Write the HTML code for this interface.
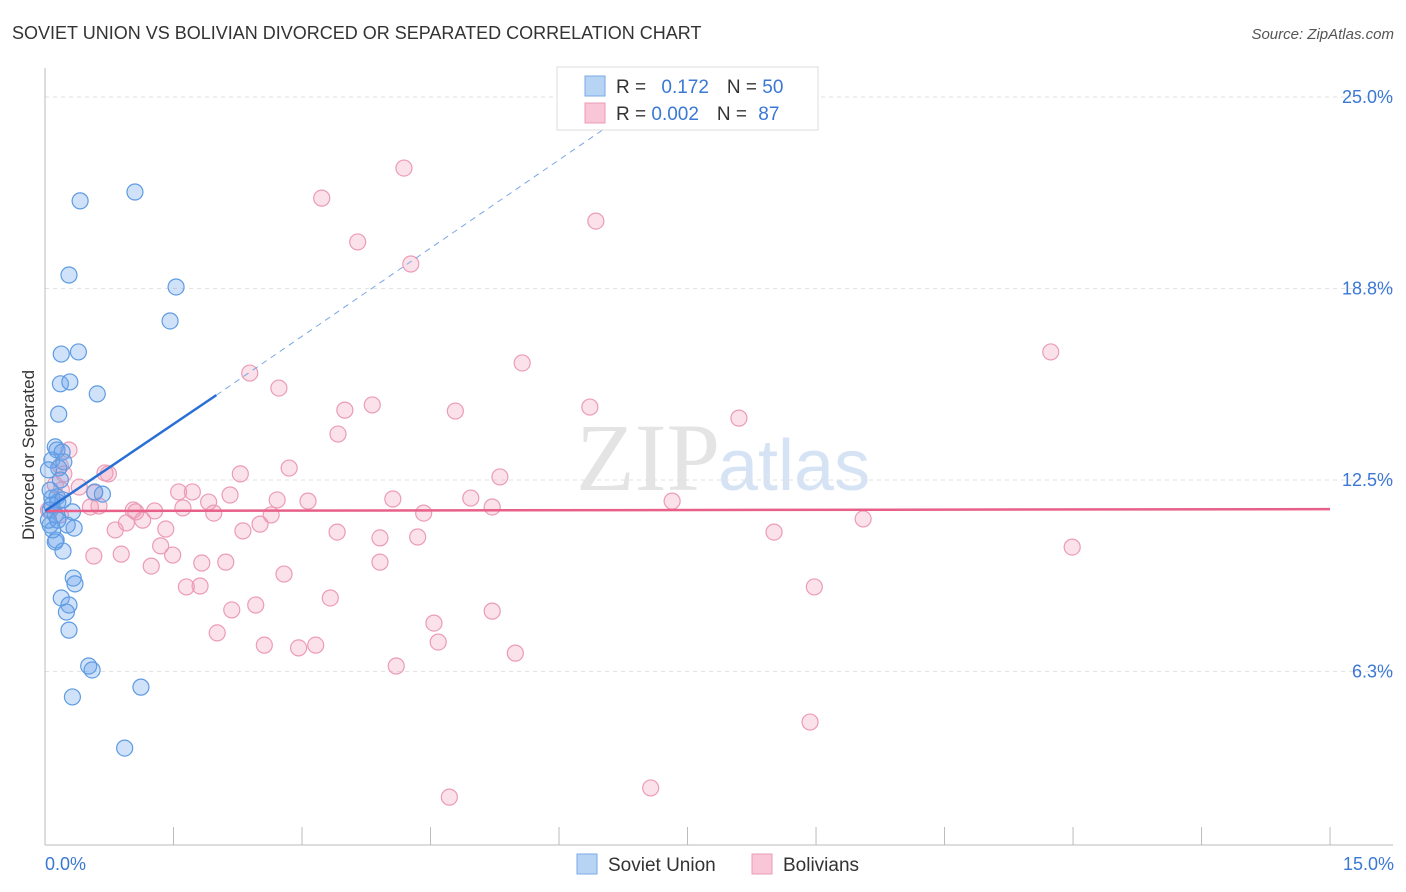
<!DOCTYPE html>
<html><head><meta charset="utf-8">
<style>
body{margin:0;background:#fff;font-family:"Liberation Sans",sans-serif;}
svg{display:block}
</style></head>
<body>
<svg id="chart" width="1406" height="892" xmlns="http://www.w3.org/2000/svg">
<text x="12" y="39" font-size="18" fill="#333">SOVIET UNION VS BOLIVIAN DIVORCED OR SEPARATED CORRELATION CHART</text>
<text x="1394" y="39" font-size="15" fill="#555" font-style="italic" text-anchor="end">Source: ZipAtlas.com</text>
<text x="720" y="490" font-size="96" fill="#e4e4e4" text-anchor="end" font-family="Liberation Serif">ZIP</text>
<text x="718" y="490" font-size="72" fill="#d5e3f5">atlas</text>
<g id="grid"></g>
<g id="axes"></g>
<g id="marks"></g>
<text transform="translate(34,455) rotate(-90)" font-size="17" fill="#333" text-anchor="middle">Divorced or Separated</text>
<text x="45" y="870" font-size="18" fill="#3a78d4">0.0%</text>
<text x="1394" y="870" font-size="18" fill="#3a78d4" text-anchor="end">15.0%</text>
<g>
<rect x="557" y="67" width="261" height="63" fill="#fff" stroke="#ddd"/>
<rect x="585" y="76" width="20" height="20" fill="#b8d4f5" stroke="#7aaae6"/>
<rect x="585" y="103" width="20" height="20" fill="#f8c6d6" stroke="#ec9bb6"/>
<text x="616" y="93" font-size="19" fill="#333">R = <tspan fill="#3a78d4" dx="10">0.172</tspan><tspan dx="18" fill="#333">N = </tspan><tspan fill="#3a78d4">50</tspan></text>
<text x="616" y="120" font-size="19" fill="#333">R = <tspan fill="#3a78d4">0.002</tspan><tspan dx="18" fill="#333">N = </tspan><tspan fill="#3a78d4" dx="6">87</tspan></text>
</g>
<g>
<rect x="577" y="854" width="20" height="20" fill="#b8d4f5" stroke="#7aaae6"/>
<text x="608" y="871" font-size="19" fill="#333">Soviet Union</text>
<rect x="752" y="854" width="20" height="20" fill="#f8c6d6" stroke="#ec9bb6"/>
<text x="783" y="871" font-size="19" fill="#333">Bolivians</text>
</g>
</svg>
<script>
const yTicks=[25.0,18.75,12.5,6.25];
const yTickLabels=["25.0%","18.8%","12.5%","6.3%"];
const xTicks=[0,1.5,3,4.5,6,7.5,9,10.5,12,13.5,15];
const sovietX=[0.41,1.05,0.28,1.53,1.46,0.19,0.39,0.18,0.29,0.61,0.16,0.12,0.14,0.20,0.08,0.16,0.22,0.08,0.14,0.15,0.67,0.58,0.06,0.12,0.32,0.06,0.26,0.34,0.13,0.12,0.21,0.33,0.35,0.19,0.28,0.25,0.28,0.51,0.55,1.12,0.32,0.93,0.04,0.06,0.18,0.09,0.04,0.15,0.21,0.08];
const sovietY=[21.61,21.90,19.19,18.80,17.69,16.61,16.68,15.64,15.70,15.31,14.65,13.58,13.48,13.41,13.15,12.89,13.09,11.91,11.95,11.78,12.04,12.11,11.52,11.36,11.46,11.03,11.03,10.93,10.54,10.48,10.18,9.30,9.11,8.65,8.42,8.19,7.60,6.43,6.30,5.74,5.42,3.75,12.83,12.17,12.50,10.87,11.19,11.19,11.85,11.68];
const bolX=[4.19,3.23,6.43,3.65,4.27,11.74,5.57,2.39,2.73,3.50,3.82,4.79,6.36,8.10,3.42,0.28,0.18,0.70,0.74,0.22,0.12,0.19,0.40,0.58,2.28,2.85,5.31,1.56,1.72,2.16,1.91,2.71,3.07,4.06,4.97,7.32,0.53,0.63,1.06,1.28,1.03,1.61,1.97,2.64,4.42,5.22,9.55,0.82,0.95,1.14,1.41,2.31,2.51,3.41,3.91,4.35,1.35,1.49,0.57,0.89,1.24,1.83,2.11,2.79,3.91,11.99,1.65,1.81,2.18,2.46,3.33,4.54,5.22,8.98,2.01,2.56,2.96,3.16,4.59,5.49,4.10,8.51,8.93,4.72,7.07,0.04,0.18];
const bolY=[22.68,21.70,20.95,20.27,19.55,16.68,16.32,15.99,15.50,14.78,14.95,14.75,14.88,14.52,14.00,13.48,12.96,12.73,12.70,12.70,12.34,12.17,12.27,12.08,12.70,12.89,12.60,12.11,12.11,12.01,11.78,11.85,11.81,11.88,11.91,11.81,11.62,11.65,11.46,11.49,11.52,11.59,11.42,11.36,11.42,11.62,11.23,10.87,11.10,11.19,10.90,10.84,11.06,10.80,10.61,10.64,10.35,10.05,10.02,10.08,9.69,9.79,9.82,9.43,9.82,10.31,9.01,9.04,8.26,8.42,8.65,7.83,8.22,9.01,7.51,7.11,7.02,7.11,7.21,6.85,6.43,10.80,4.60,2.15,2.45,11.52,11.36];
const sovietTrend=[0,11.49,2.0,15.27,6.6,24.1];
const bolTrend=[0,11.49,15,11.55];

const NS="http://www.w3.org/2000/svg";
const xs=v=>45+v*85.67;
const ys=v=>97+(25-v)*30.64;
function mk(tag,attrs,parent){const e=document.createElementNS(NS,tag);for(const k in attrs)e.setAttribute(k,attrs[k]);parent.appendChild(e);return e;}
const grid=document.getElementById('grid'),axes=document.getElementById('axes'),marks=document.getElementById('marks');
yTicks.forEach((t,i)=>{
  const l=mk('line',{x1:45,x2:1393,y1:ys(t),y2:ys(t),stroke:'#e2e2e2','stroke-dasharray':'4,4'},grid);
  
  
  const tx=mk('text',{x:1393,y:ys(t)+6,'font-size':18,fill:'#3a78d4','text-anchor':'end'},grid);
  tx.textContent=yTickLabels[i];
  
  
});
const ya=mk('line',{x1:45,x2:45,y1:68,y2:845,stroke:'#bbb'},axes);


const xa=mk('line',{x1:45,x2:1393,y1:845,y2:845,stroke:'#bbb'},axes);


xTicks.forEach(t=>{
  const l=mk('line',{x1:xs(t),x2:xs(t),y1:827,y2:845,stroke:'#bbb'},axes);
  
  
});
bolX.forEach((x,i)=>{
  const c=mk('circle',{cx:xs(x),cy:ys(bolY[i]),r:8,fill:'rgba(242,150,180,0.28)',stroke:'#ec9bb6','stroke-width':1.2},marks);
  
  
});
sovietX.forEach((x,i)=>{
  const c=mk('circle',{cx:xs(x),cy:ys(sovietY[i]),r:8,fill:'rgba(110,165,235,0.32)',stroke:'#5e9be2','stroke-width':1.2},marks);
  
  
});
const bt=mk('line',{x1:xs(bolTrend[0]),y1:ys(bolTrend[1]),x2:xs(bolTrend[2]),y2:ys(bolTrend[3]),stroke:'#e8608a','stroke-width':2.5},marks);


const st=mk('line',{x1:xs(sovietTrend[0]),y1:ys(sovietTrend[1]),x2:xs(sovietTrend[2]),y2:ys(sovietTrend[3]),stroke:'#2a6fd6','stroke-width':2.5},marks);


const sd=mk('line',{x1:xs(sovietTrend[2]),y1:ys(sovietTrend[3]),x2:xs(sovietTrend[4]),y2:ys(sovietTrend[5]),stroke:'#7aa6e6','stroke-width':1,'stroke-dasharray':'6,5'},marks);


</script>
</body></html>
